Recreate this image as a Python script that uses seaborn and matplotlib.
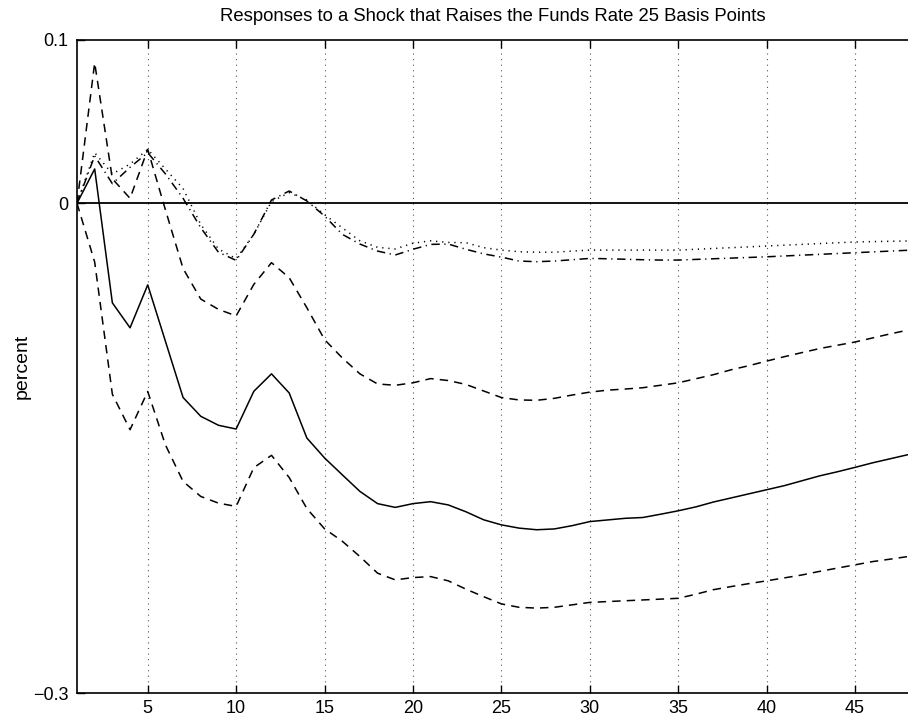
import numpy as np
import pandas as pd
import matplotlib
matplotlib.use("Agg")
import matplotlib.pyplot as plt
import seaborn as sns

# Horizon (months)
horizon = list(range(1, 49))

point_estimate = [0.0, 0.021, -0.061, -0.0763, -0.050, -0.0845, -0.119, -0.1305, -0.136, -0.1383,
                  -0.1152, -0.1045, -0.1162, -0.1438, -0.156, -0.1663, -0.1765, -0.184, -0.1863, -0.184,
                  -0.1828, -0.1848, -0.189, -0.1939, -0.197, -0.199, -0.200, -0.1995, -0.1975, -0.195,
                  -0.194, -0.193, -0.1925, -0.1905, -0.1884, -0.186, -0.183, -0.1805, -0.178, -0.1755,
                  -0.173, -0.170, -0.167, -0.1645, -0.1618, -0.159, -0.1565, -0.154]

upper_band = [0.0, 0.086, 0.015, 0.003, 0.033, -0.004, -0.040, -0.0587, -0.065, -0.069,
              -0.0497, -0.0364, -0.0456, -0.064, -0.0835, -0.0947, -0.1045, -0.1107, -0.1115, -0.110,
              -0.1074, -0.1086, -0.111, -0.115, -0.119, -0.1205, -0.1207, -0.1195, -0.1175, -0.1157,
              -0.1145, -0.1138, -0.113, -0.1115, -0.110, -0.1075, -0.105, -0.102, -0.0995, -0.0967,
              -0.094, -0.0915, -0.089, -0.087, -0.085, -0.0825, -0.080, -0.0777]

lower_band = [0.0, -0.036, -0.117, -0.1387, -0.1153, -0.148, -0.1704, -0.1796, -0.1837, -0.1857,
              -0.162, -0.1544, -0.168, -0.187, -0.1994, -0.207, -0.2164, -0.2266, -0.2307, -0.2293,
              -0.2287, -0.2313, -0.2364, -0.241, -0.2454, -0.2475, -0.248, -0.2475, -0.246, -0.2445,
              -0.244, -0.2435, -0.243, -0.2425, -0.242, -0.2395, -0.2367, -0.2348, -0.233, -0.2313,
              -0.2295, -0.2277, -0.2255, -0.2235, -0.2215, -0.2195, -0.218, -0.2164]

dotted_series = [0.0, 0.031, 0.018, 0.024, 0.033, 0.021, 0.009, -0.013, -0.028, -0.034,
                 -0.019, 0.001, 0.0065, 0.002, -0.007, -0.015, -0.023, -0.027, -0.028, -0.0245,
                 -0.023, -0.024, -0.0242, -0.0272, -0.0287, -0.0297, -0.030, -0.030, -0.0293, -0.0287,
                 -0.0287, -0.0287, -0.0287, -0.0287, -0.0287, -0.0282, -0.0277, -0.0272, -0.0267, -0.0262,
                 -0.0257, -0.0252, -0.0247, -0.0242, -0.0237, -0.0235, -0.0233, -0.0231]

dashdot_series = [0.0, 0.029, 0.012, 0.022, 0.031, 0.018, 0.003, -0.015, -0.030, -0.035,
                  -0.019, 0.002, 0.0075, 0.0014, -0.0078, -0.019, -0.025, -0.0293, -0.0317, -0.0282,
                  -0.0252, -0.025, -0.0282, -0.031, -0.033, -0.0354, -0.0358, -0.0354, -0.0346, -0.0338,
                  -0.034, -0.0343, -0.0346, -0.0348, -0.0348, -0.0344, -0.034, -0.0336, -0.0332, -0.0328,
                  -0.0323, -0.0318, -0.0313, -0.0308, -0.0303, -0.0298, -0.0293, -0.0288]

x_ticks = [5, 10, 15, 20, 25, 30, 35, 40, 45]
y_ticks = [-0.3, 0.0, 0.1]
y_tick_labels = ["\u22120.3", "0", "0.1"]
title_text = "Responses to a Shock that Raises the Funds Rate 25 Basis Points"
y_label = "percent"

sns.set_theme(style="white")
plt.rcParams["font.family"] = ["Liberation Sans", "DejaVu Sans"]

fig = plt.figure(figsize=(9.08, 7.16), dpi=100)
ax = fig.add_axes([77 / 908, 1 - 693 / 716, 1 - 77 / 908, (693 - 40) / 716])

df = pd.DataFrame({
    "h": horizon,
    "point": point_estimate,
    "upper": upper_band,
    "lower": lower_band,
    "dotted": dotted_series,
    "dashdot": dashdot_series,
})

lw = 1.1
ax.axhline(0, color="black", lw=1.3, zorder=1)
sns.lineplot(data=df, x="h", y="point", ax=ax, color="black", lw=lw)
sns.lineplot(data=df, x="h", y="upper", ax=ax, color="black", lw=lw)
ax.lines[-1].set_linestyle((0, (5.5, 4.0)))
sns.lineplot(data=df, x="h", y="lower", ax=ax, color="black", lw=lw)
ax.lines[-1].set_linestyle((0, (5.5, 4.0)))
sns.lineplot(data=df, x="h", y="dotted", ax=ax, color="black", lw=lw)
ax.lines[-1].set_linestyle((0, (0.8, 3.2)))
sns.lineplot(data=df, x="h", y="dashdot", ax=ax, color="black", lw=lw)
ax.lines[-1].set_linestyle((0, (5.5, 3.0, 0.8, 3.0)))

ax.set_xlim(1, 48)
ax.set_ylim(-0.3, 0.1)
ax.set_xticks(x_ticks)
ax.set_xticklabels([str(t) for t in x_ticks])
ax.set_yticks(y_ticks)
ax.set_yticklabels(y_tick_labels)

ax.grid(True, axis="x", linestyle=(0, (1, 4)), color="#555555", lw=0.8)
ax.grid(False, axis="y")

for side in ["left", "bottom", "top"]:
    ax.spines[side].set_visible(True)
    ax.spines[side].set_color("black")
    ax.spines[side].set_linewidth(1.2)
ax.spines["right"].set_visible(False)

ax.tick_params(axis="both", direction="in", length=6, width=1.0, color="black",
               labelsize=13, labelcolor="black", top=True, bottom=True, left=True, right=False)
ax.tick_params(axis="x", pad=5)
ax.tick_params(axis="y", pad=6)

ax.set_xlabel("")
ax.set_ylabel(y_label, fontsize=14, color="black", labelpad=2)
ax.set_title(title_text, fontsize=13.3, color="black", pad=14)

fig.savefig("out.png", dpi=100)
